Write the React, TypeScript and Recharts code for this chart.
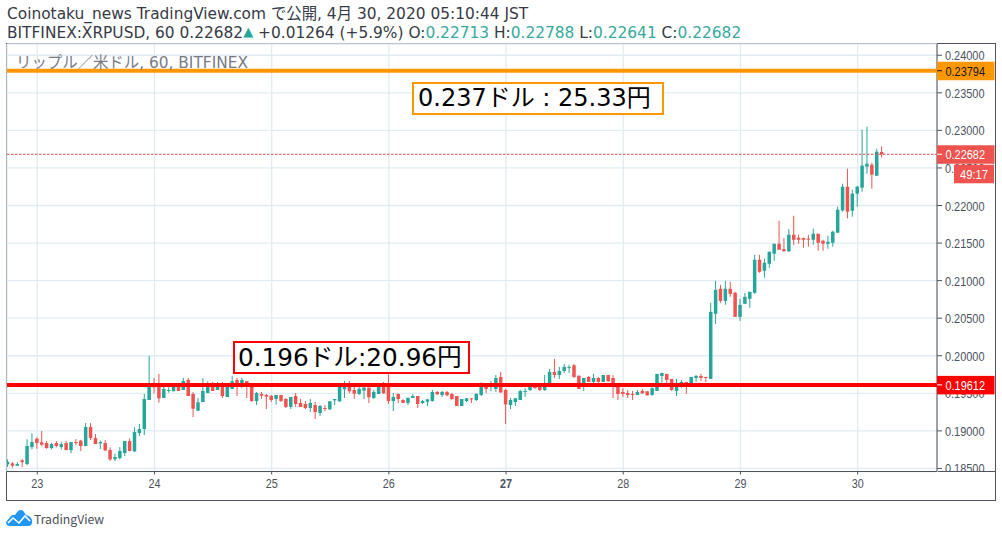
import React from 'react'
import { ComposedChart, Bar, XAxis, YAxis, CartesianGrid, ReferenceLine } from 'recharts'

// hourly candles, left to right
const opens = [
  0.18553,0.18567,0.18536,0.18607,0.18558,0.18784,0.18896,0.18847,0.18838,0.18771,
  0.18838,0.18784,0.18838,0.18744,0.18851,0.18869,0.18798,0.19051,0.18904,0.18833,
  0.18838,0.18744,0.18624,0.18638,0.18704,0.18864,0.18727,0.18971,0.19024,0.19411,
  0.19633,0.19611,0.19438,0.19531,0.19527,0.19602,0.19544,0.19678,0.19491,0.19269,
  0.19384,0.19504,0.19624,0.19544,0.19611,0.19451,0.19558,0.19678,0.19633,0.19664,
  0.19598,0.19398,0.19491,0.19478,0.19464,0.19424,0.19478,0.19424,0.19318,0.19464,
  0.19371,0.19358,0.19304,0.19344,0.19238,0.19304,0.19287,0.19407,0.19393,0.19553,
  0.19598,0.19544,0.19491,0.19536,0.19575,0.19438,0.19491,0.19633,0.19598,0.19398,
  0.19491,0.19411,0.19371,0.19438,0.19464,0.19371,0.19389,0.19398,0.19518,0.19478,
  0.19518,0.19491,0.19464,0.19331,0.19398,0.19433,0.19411,0.19478,0.19584,0.19584,
  0.19558,0.19718,0.19544,0.19344,0.19384,0.19411,0.19518,0.19544,0.19589,0.19589,
  0.19544,0.19633,0.19784,0.19744,0.19798,0.19838,0.19873,0.19731,0.19638,0.19718,
  0.19651,0.19704,0.19651,0.19744,0.19704,0.19598,0.19518,0.19504,0.19491,0.19478,
  0.19531,0.19527,0.19478,0.19531,0.19731,0.19758,0.19691,0.19531,0.19633,0.19651,
  0.19624,0.19704,0.19731,0.19718,0.19691,0.20558,0.20891,0.20731,0.20891,0.20838,
  0.20518,0.20691,0.20758,0.20838,0.21278,0.21131,0.21224,0.21358,0.21491,0.2142,
  0.21389,0.21611,0.21571,0.21567,0.21558,0.21544,0.21624,0.21531,0.21491,0.21504,
  0.21638,0.21935,0.2225,0.2193,0.22157,0.22237,0.22516,0.22543,0.22396,0.22713,
]
const highs = [
  0.1862,0.18584,0.18584,0.18629,0.18887,0.18967,0.18913,0.18998,0.18864,0.18838,
  0.18864,0.18856,0.18864,0.18851,0.18891,0.18882,0.19104,0.19104,0.18958,0.18869,
  0.18878,0.1878,0.18696,0.18784,0.18864,0.189,0.19047,0.19091,0.19491,0.19998,
  0.19704,0.19758,0.19589,0.1958,0.19633,0.19633,0.19704,0.19704,0.19518,0.19438,
  0.19704,0.1966,0.19651,0.19651,0.19651,0.19607,0.19731,0.19704,0.19704,0.19664,
  0.19624,0.19518,0.19518,0.19491,0.19478,0.19478,0.19478,0.19438,0.19451,0.19504,
  0.19424,0.19398,0.19424,0.19384,0.19344,0.19344,0.19398,0.19424,0.19598,0.19664,
  0.19664,0.19589,0.19589,0.19633,0.19575,0.19544,0.1962,0.19651,0.19798,0.19504,
  0.195,0.1942,0.19447,0.19491,0.19464,0.19411,0.19424,0.19544,0.19531,0.19531,
  0.19531,0.19504,0.19464,0.19424,0.19438,0.19438,0.19504,0.19647,0.19633,0.19664,
  0.19744,0.19784,0.19558,0.19438,0.19438,0.19544,0.19571,0.19589,0.19611,0.19598,
  0.19744,0.19824,0.19958,0.19851,0.19891,0.19878,0.19891,0.19744,0.19704,0.19731,
  0.19758,0.19718,0.19744,0.19744,0.1974,0.19633,0.19571,0.19544,0.19531,0.19544,
  0.19558,0.19527,0.1958,0.19758,0.19771,0.19758,0.19691,0.19691,0.19678,0.19651,
  0.19718,0.19744,0.19758,0.19718,0.20704,0.20998,0.20944,0.20998,0.20984,0.20851,
  0.20758,0.20838,0.20851,0.21344,0.21344,0.21291,0.21384,0.21491,0.21797,0.21567,
  0.21686,0.21864,0.21611,0.21571,0.21611,0.21691,0.21624,0.21544,0.21598,0.21664,
  0.21984,0.2229,0.2249,0.2221,0.22263,0.23009,0.23049,0.2257,0.22756,0.22788,
]
const lows = [
  0.18522,0.18509,0.18531,0.18522,0.18544,0.18753,0.18762,0.18798,0.18762,0.18753,
  0.1878,0.18753,0.18744,0.18704,0.18807,0.18731,0.18798,0.18878,0.18824,0.18758,
  0.18731,0.18598,0.18598,0.1862,0.18664,0.18731,0.18718,0.18931,0.18944,0.19411,
  0.195,0.19375,0.19438,0.19509,0.19527,0.19531,0.19544,0.19464,0.19184,0.19264,
  0.19384,0.19504,0.19531,0.19544,0.19438,0.19451,0.19558,0.19464,0.19571,0.19438,
  0.19384,0.19344,0.19424,0.19291,0.19384,0.19349,0.19384,0.19304,0.19291,0.19318,
  0.19318,0.19291,0.19251,0.19158,0.19198,0.19264,0.19278,0.19344,0.19389,0.19438,
  0.195,0.19424,0.19478,0.19424,0.19371,0.19424,0.19491,0.19495,0.19358,0.19264,
  0.19371,0.19371,0.19344,0.19438,0.19304,0.19358,0.19331,0.19389,0.19478,0.19451,
  0.1946,0.19411,0.19331,0.19331,0.19384,0.19371,0.19398,0.19464,0.19504,0.19527,
  0.19518,0.19504,0.19091,0.19291,0.19331,0.19411,0.19451,0.19531,0.19558,0.19531,
  0.19531,0.19633,0.19704,0.19691,0.19771,0.19771,0.19704,0.19558,0.19531,0.19651,
  0.19638,0.19642,0.19651,0.19651,0.19438,0.19411,0.19451,0.19438,0.19411,0.19478,
  0.19491,0.19469,0.19469,0.19531,0.19642,0.19624,0.19531,0.19464,0.19571,0.19491,
  0.19624,0.19651,0.19664,0.19651,0.19691,0.20424,0.20704,0.20678,0.20784,0.20518,
  0.20464,0.20691,0.20638,0.20824,0.21104,0.21038,0.21171,0.21264,0.21411,0.21385,
  0.21385,0.21473,0.21491,0.21438,0.21451,0.21478,0.21398,0.21398,0.21425,0.21451,
  0.21638,0.21917,0.21828,0.21851,0.21984,0.22183,0.22423,0.22223,0.22396,0.22641,
]
const closes = [
  0.18589,0.18536,0.18558,0.18584,0.18798,0.18851,0.18838,0.18816,0.18771,0.18824,
  0.18798,0.18824,0.18744,0.18851,0.18838,0.18798,0.19051,0.18904,0.18824,0.18851,
  0.1874,0.1862,0.18651,0.18731,0.18864,0.18731,0.18984,0.19024,0.19424,0.19584,
  0.1958,0.19433,0.19558,0.19544,0.19589,0.19531,0.19664,0.19464,0.19295,0.1938,
  0.19531,0.19624,0.19531,0.19598,0.19464,0.19584,0.1966,0.19611,0.19678,0.19598,
  0.19398,0.19504,0.19469,0.19455,0.19411,0.19478,0.19398,0.19318,0.19451,0.19358,
  0.19318,0.19304,0.19371,0.19251,0.19331,0.19291,0.19393,0.19424,0.19598,0.19589,
  0.19527,0.19495,0.19558,0.19575,0.19447,0.19518,0.19589,0.195,0.19398,0.19451,
  0.19424,0.19371,0.19438,0.19464,0.19358,0.19398,0.1942,0.19518,0.19487,0.19518,
  0.19473,0.19424,0.19331,0.19424,0.19433,0.1942,0.19491,0.19584,0.19558,0.19598,
  0.19704,0.19513,0.19353,0.19411,0.19433,0.19531,0.19531,0.19584,0.19571,0.19544,
  0.19589,0.19784,0.19744,0.19798,0.19851,0.19851,0.19718,0.19558,0.19704,0.19651,
  0.19704,0.19651,0.19744,0.1966,0.19638,0.19491,0.19491,0.19478,0.19478,0.19518,
  0.195,0.19473,0.19567,0.19758,0.19771,0.19678,0.19544,0.19584,0.19651,0.19624,
  0.19718,0.19731,0.19704,0.19704,0.20584,0.20878,0.20731,0.20891,0.20824,0.20518,
  0.20678,0.20784,0.20851,0.21278,0.21118,0.21238,0.21384,0.21491,0.21411,0.21393,
  0.21611,0.21544,0.21544,0.21544,0.21544,0.21624,0.21504,0.21491,0.21518,0.21651,
  0.21944,0.2225,0.21917,0.22157,0.2225,0.2253,0.22556,0.2241,0.22716,0.22682,
]

const priceTicks = [0.185,0.19,0.195,0.2,0.205,0.21,0.215,0.22,0.225,0.23,0.235,0.24]
const priceDomain = [0.18459, 0.2415]
const dayTicks = [6,30,54,78,102,126,150,174]
const dayLabels = ['23','24','25','26','27','28','29','30']

const upColor = '#26a69a'
const downColor = '#ef5350'
const axisColor = '#50535e'
const textColor = '#4c525e'
const gridColor = '#e1ecf2'
const font = '"DejaVu Sans", "Noto Sans CJK JP", sans-serif'
const axisFont = '"Liberation Sans", sans-serif'

const candles = opens.map((o, i) => ({
  t: i,
  open: o,
  high: highs[i],
  low: lows[i],
  close: closes[i],
}))

function Candle(props: any) {
  const { x, y, width, height, payload } = props
  const { open, close, high, low } = payload
  const color = close >= open ? upColor : downColor
  const perUnit = height / (high - low)
  const top = y + (high - Math.max(open, close)) * perUnit
  const bottom = y + (high - Math.min(open, close)) * perUnit
  const cx = x + width / 2
  return (
    <g>
      <line x1={cx} x2={cx} y1={y} y2={y + height} stroke={color} strokeWidth={1} />
      <rect x={cx - 1.75} y={top} width={3.5} height={Math.max(bottom - top, 1)} fill={color} />
    </g>
  )
}

// the picture's axis digits are tall and squeezed, so fit the width
function PriceTick(props: any) {
  const { x, y, payload } = props
  return (
    <text x={x} y={y + 5} fill={textColor} fontSize={13.5} fontFamily={axisFont}
      textLength={39.5} lengthAdjust="spacingAndGlyphs">
      {payload.value.toFixed(5)}
    </text>
  )
}

function PriceTag(props: any) {
  const { viewBox, text, fill, color, countdown } = props
  const x = viewBox.x + viewBox.width
  const y = viewBox.y
  return (
    <g>
      <rect x={x} y={y - 9} width={57.5} height={18.5} fill={fill} />
      <line x1={x} x2={x + 5} y1={y} y2={y} stroke={color} />
      <text x={x + 8.5} y={y + 5} fill={color} fontSize={13.5} fontFamily={axisFont}
        textLength={39.5} lengthAdjust="spacingAndGlyphs">{text}</text>
      {countdown && (
        <g>
          <rect x={x + 17} y={y + 10.5} width={40} height={18.5} fill={fill} />
          <text x={x + 37} y={y + 24.5} fill={color} fontSize={13.5} textAnchor="middle" fontFamily={axisFont}
            textLength={28} lengthAdjust="spacingAndGlyphs">{countdown}</text>
        </g>
      )}
    </g>
  )
}

function DayTick(props: any) {
  const { x, y, payload } = props
  const i = dayTicks.indexOf(payload.value)
  return (
    <text x={x} y={y + 11} textAnchor="middle" fill={textColor} fontSize={13.5} fontFamily={axisFont}
      fontWeight={dayLabels[i] === '27' ? 'bold' : 'normal'}
      textLength={12} lengthAdjust="spacingAndGlyphs">
      {dayLabels[i]}
    </text>
  )
}

function Note({ left, top, width, height, color, textLeft, size, children }: any) {
  return (
    <div style={{ position: 'absolute', left, top, width, height, border: `2px solid ${color}`, background: '#fff', boxSizing: 'border-box' }}>
      <span style={{ position: 'absolute', left: textLeft, top: 0, lineHeight: `${height - 4}px`, fontSize: size, color: '#000', whiteSpace: 'pre', fontFamily: font }}>
        {children}
      </span>
    </div>
  )
}

const teal = { color: '#36a99c' }

export default function App() {
  return (
    <div style={{ position: 'absolute', left: 0, top: 0, width: 1002, height: 537, background: '#fff', overflow: 'hidden', fontFamily: font }}>
      <div style={{ position: 'absolute', left: 7, top: 5, fontSize: 15.4, lineHeight: '19px', color: '#363a45', whiteSpace: 'pre' }}>
        Coinotaku_news TradingView.com で公開, 4月 30, 2020 05:10:44 JST
      </div>
      <div style={{ position: 'absolute', left: 7, top: 22, fontSize: 15.4, lineHeight: '19px', color: '#363a45', whiteSpace: 'pre' }}>
        BITFINEX:XRPUSD, 60 0.22682<span style={{ color: upColor, fontSize: 13, verticalAlign: 2 }}>▲</span> +0.01264 (+5.9%) O:<span style={teal}>0.22713</span> H:<span style={teal}>0.22788</span> L:<span style={teal}>0.22641</span> C:<span style={teal}>0.22682</span>
      </div>

      <div style={{ position: 'absolute', left: 6, top: 43, width: 990, height: 458, border: `1px solid ${axisColor}`, boxSizing: 'border-box' }} />

      <div style={{ position: 'absolute', left: 0, top: 0 }}>
        <ComposedChart width={1002} height={537} data={candles}
          margin={{ top: 44, right: 7, bottom: 37, left: 7 }}>
          <CartesianGrid stroke={gridColor} strokeWidth={1.3} />
          <XAxis dataKey="t" type="number" domain={[-0.2, 190.25]} ticks={dayTicks} tick={<DayTick />}
            height={28.5} stroke={axisColor} tickSize={3} allowDataOverflow />
          <YAxis orientation="right" domain={priceDomain} ticks={priceTicks} interval={0} width={58}
            stroke={axisColor} tickSize={5} tickMargin={3} tick={<PriceTick />} allowDataOverflow />
          <Bar dataKey={(d: any) => [d.low, d.high]} barSize={4} shape={<Candle />} isAnimationActive={false} />
        </ComposedChart>
      </div>

      {/* hides the foot of the lowest price label, as in the picture */}
      <div style={{ position: 'absolute', left: 938, top: 471, width: 57, height: 29, background: '#fff', borderTop: `1px solid ${axisColor}`, boxSizing: 'border-box' }} />

      {/* second layer so the price tags sit over the axis labels */}
      <div style={{ position: 'absolute', left: 0, top: 0 }}>
        <ComposedChart width={1002} height={537} data={candles}
          margin={{ top: 44, right: 65, bottom: 65.5, left: 7 }}>
          <XAxis dataKey="t" type="number" domain={[-0.2, 190.25]} hide />
          <YAxis domain={priceDomain} hide allowDataOverflow />
          <ReferenceLine y={0.22682} stroke="#dc4a4c" strokeWidth={1.2} strokeDasharray="2.5 1.5"
            label={<PriceTag text="0.22682" fill={downColor} color="#fff" countdown="49:17" />} />
          <ReferenceLine y={0.23794} stroke="#ff9800" strokeWidth={4}
            label={<PriceTag text="0.23794" fill="#ff9800" color="#131722" />} />
          <ReferenceLine y={0.19612} stroke="#ff0000" strokeWidth={4}
            label={<PriceTag text="0.19612" fill="#ff0000" color="#fff" />} />
        </ComposedChart>
      </div>

      <div style={{ position: 'absolute', left: 16, top: 53, fontSize: 15.4, lineHeight: '20px', color: '#787b86', whiteSpace: 'pre' }}>
        リップル／米ドル, 60, BITFINEX
      </div>

      <Note left={412} top={82} width={252} height={33} color="#ff9800" textLeft={4} size={24}>0.237ドル : 25.33円</Note>
      <Note left={233} top={341} width={237} height={33} color="#ff0000" textLeft={3} size={24.7}>0.196ドル:20.96円</Note>

      <svg style={{ position: 'absolute', left: 6, top: 510 }} width={27} height={17} viewBox="0 0 27 17">
        <path d="M0 12 L5 6 Q6 5 7 5 L9 5 L12 1 Q13 0 15 0 Q17 0 18 2 L20 5 Q25 6 26 10 Q27 15 23 16 L4 16 Q0 16 0 12 Z" fill="#2196f3" />
        <path d="M2 13 L7 8 L13 13 L19 6 L24 11" fill="none" stroke="#fff" strokeWidth={1.6} />
      </svg>
      <div style={{ position: 'absolute', left: 34, top: 510, fontSize: 12.2, lineHeight: '18px', color: '#4a4e59', whiteSpace: 'pre', fontFamily: '"Noto Sans CJK JP", sans-serif' }}>
        TradingView
      </div>
    </div>
  )
}
